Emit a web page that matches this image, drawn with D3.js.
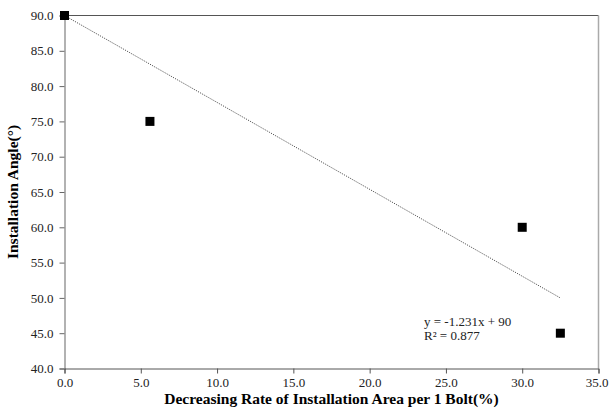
<!DOCTYPE html>
<html>
<head>
<meta charset="utf-8">
<script src="https://cdn.jsdelivr.net/npm/d3@7"></script>
<style>
  html, body { margin: 0; padding: 0; background: #fff; }
  svg { display: block; }
  svg text { font-family: "Liberation Serif", "Times New Roman", serif; }
</style>
</head>
<body>
<svg id="chart" width="609" height="410"></svg>
<script>
// Decreasing rate of installation area per bolt (%) vs installation angle (deg)
const rateValues = [0, 5.6, 30, 32.5];
const angleValues = [90, 75, 60, 45];
const xTicks = [0, 5, 10, 15, 20, 25, 30, 35];
const yTicks = [40, 45, 50, 55, 60, 65, 70, 75, 80, 85, 90];
// Linear trend, intercept fixed at 90
const trendSlope = -1.231;
const trendIntercept = 90;
const trendLabel = ["y = -1.231x + 90", "R² = 0.877"];

const svg = d3.select("#chart");
const m = { left: 64.5, right: 598.5, top: 15.5, bottom: 368.5 };
const serif = '"Liberation Serif", "Times New Roman", serif';

const x = d3.scaleLinear().domain([0, 35]).range([m.left, m.right]);
const y = d3.scaleLinear().domain([40, 90]).range([m.bottom, m.top]);

// plot frame: top and right borders
svg.append("line").attr("x1", m.left).attr("x2", m.right).attr("y1", m.top).attr("y2", m.top)
  .attr("stroke", "#555").attr("stroke-width", 1);
svg.append("line").attr("x1", m.right).attr("x2", m.right).attr("y1", m.top).attr("y2", m.bottom)
  .attr("stroke", "#aaa").attr("stroke-width", 1.5);

// y axis
const yAxis = svg.append("g").attr("transform", `translate(${m.left},0)`)
  .call(d3.axisLeft(y).tickValues(yTicks).tickFormat(d3.format(".1f")).tickSize(5).tickPadding(6));
yAxis.attr("font-family", null).attr("font-size", null);
yAxis.select(".domain").attr("stroke", "#999").attr("stroke-width", 1.5);
yAxis.selectAll(".tick line").attr("stroke", "#666");
yAxis.selectAll("text").style("font-family", serif).style("font-size", "13px").attr("fill", "#222");

// x axis
const xAxis = svg.append("g").attr("transform", `translate(0,${m.bottom})`)
  .call(d3.axisBottom(x).tickValues(xTicks).tickFormat(d3.format(".1f")).tickSize(5).tickPadding(4));
xAxis.attr("font-family", null).attr("font-size", null);
xAxis.select(".domain").attr("stroke", "#555").attr("stroke-width", 1);
xAxis.selectAll(".tick line").attr("stroke", "#555");
xAxis.selectAll("text").style("font-family", serif).style("font-size", "13px").attr("fill", "#222");
// keep the last label inside the page edge
xAxis.selectAll(".tick text").filter((d) => d === 35).attr("dx", "-2");

// trend line over the data range
const xMin = d3.min(rateValues), xMax = d3.max(rateValues);
svg.append("line")
  .attr("x1", x(xMin)).attr("y1", y(trendIntercept + trendSlope * xMin))
  .attr("x2", x(xMax)).attr("y2", y(trendIntercept + trendSlope * xMax))
  .attr("stroke", "#555").attr("stroke-width", 1).attr("stroke-dasharray", "1.2,1.2");

// data markers
const sz = 9;
svg.append("g").selectAll("rect").data(rateValues).join("rect")
  .attr("x", (d) => x(d) - sz / 2)
  .attr("y", (d, i) => y(angleValues[i]) - sz / 2)
  .attr("width", sz).attr("height", sz)
  .attr("fill", "#000");

// trend equation
svg.append("g").selectAll("text").data(trendLabel).join("text")
  .attr("x", 424).attr("y", (d, i) => 326 + i * 14)
  .style("font-family", serif).style("font-size", "13px").attr("fill", "#222")
  .text((d) => d);

// axis titles
svg.append("text").attr("x", (m.left + m.right) / 2).attr("y", 404)
  .attr("text-anchor", "middle").style("font-family", serif).style("font-size", "15.5px").attr("font-weight", "bold")
  .text("Decreasing Rate of Installation Area per 1 Bolt(%)");
svg.append("text").attr("transform", `translate(18,${(m.top + m.bottom) / 2}) rotate(-90)`)
  .attr("text-anchor", "middle").style("font-family", serif).style("font-size", "15.5px").attr("font-weight", "bold")
  .text("Installation Angle(°)");
</script>
</body>
</html>
